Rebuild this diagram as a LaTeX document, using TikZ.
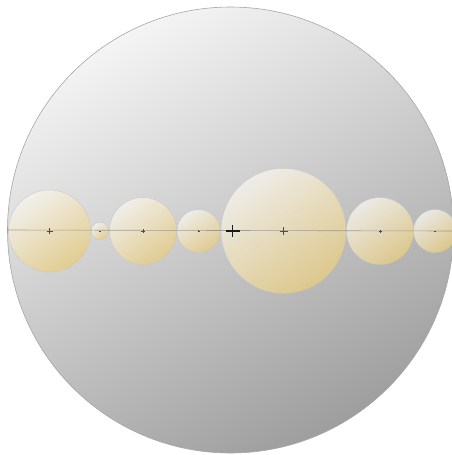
\documentclass[tikz,border=0pt]{standalone}
\definecolor{creamtop}{RGB}{246,244,238}
\definecolor{creammid}{RGB}{240,230,200}
\definecolor{golden}{RGB}{230,204,130}
\definecolor{greytop}{RGB}{244,244,244}
\definecolor{greymid}{RGB}{214,214,214}
\definecolor{greybot}{RGB}{158,158,158}
\begin{document}
\begin{tikzpicture}[x=1pt,y=-1pt,
  bigdisc/.style={circle,draw=black!35,line width=0.6pt,inner sep=0pt,
    top color=greytop,middle color=greymid,bottom color=greybot,shading angle=28},
  disc/.style={circle,draw=black!22,line width=0.5pt,inner sep=0pt,
    top color=creamtop,middle color=creammid,bottom color=golden,shading angle=35,
    fill opacity=0.8,draw opacity=0.8},
  axisline/.style={draw=black!55,line width=0.6pt,opacity=0.6},
  tick/.style={draw=black!70,line width=0.5pt},
  bigtick/.style={draw=black!90,line width=1.5pt}]
\useasboundingbox (0,0) rectangle (452,455);
\clip (0,0) rectangle (452,455);
\node[bigdisc,minimum size=446pt] (world) at (230.5,230) {};
\node[disc,minimum size=82pt] (c1) at (49.5,231) {};
\node[disc,minimum size=17.5pt] (c2) at (100,231) {};
\node[disc,minimum size=67pt] (c3) at (143,231) {};
\node[disc,minimum size=43pt] (c4) at (198.5,231) {};
\node[disc,minimum size=125pt] (c6) at (283.5,230.8) {};
\node[disc,minimum size=67pt] (c7) at (380,231) {};
\node[disc,minimum size=43pt] (c8) at (435,231) {};
\coordinate (lend) at (452,231);
\draw[axisline] (world.west) -- (lend);
% centre marks
\draw[tick] (46.5,231) -- (52.5,231) (49.5,228) -- (49.5,234);
\draw[tick,line width=0.3pt] (99,231) -- (101,231);
\draw[tick] (141,231) -- (145,231) (143,229) -- (143,233);
\draw[tick,line width=0.4pt] (197.5,231) -- (199.5,231) (198.5,230) -- (198.5,232);
\draw[tick] (279.5,231) -- (287.5,231) (283.5,227) -- (283.5,235);
\draw[tick] (378.5,231) -- (381.5,231) (380,229.5) -- (380,232.5);
\draw[tick,line width=0.4pt] (434,231) -- (436,231);
\coordinate (here) at (232.7,231);
\draw[bigtick] ([xshift=-7pt]here) -- ([xshift=7pt]here) ([yshift=-6pt]here) -- ([yshift=6pt]here);
\end{tikzpicture}
\end{document}
